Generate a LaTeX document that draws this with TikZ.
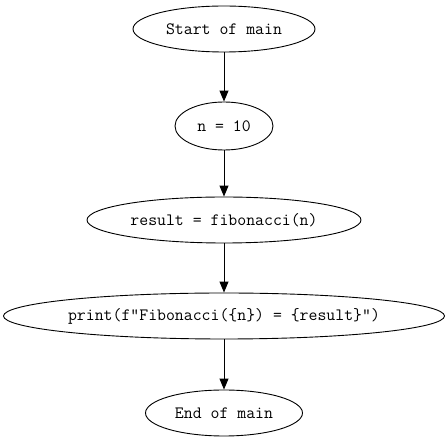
\documentclass[tikz,border=0pt]{standalone}
\usepackage{fontspec}
\usetikzlibrary{shapes.geometric,arrows.meta}
\tikzset{
  flownode/.style={draw=black, line width=0.9pt, ellipse, inner sep=0pt,
    minimum height=46pt, font=\ttfamily\fontsize{17.3}{19}\selectfont},
  flowarrow/.style={draw=black, line width=1pt, -{Triangle[length=11pt,width=9pt]}}
}
\begin{document}
\begin{tikzpicture}[x=1pt,y=1pt]
\useasboundingbox (0,0) rectangle (448,-443);
\node[flownode, minimum width=182pt] (start) at (224,-29) {Start of main};
\node[flownode, minimum width=98pt, minimum height=48pt] (n) at (224,-126) {n = 10};
\node[flownode, minimum width=274pt] (res) at (224,-220) {result = fibonacci(n)};
\node[flownode, minimum width=437pt] (pr) at (224,-316) {print(f"Fibonacci(\{n\}) = \{result\}")};
\node[flownode, minimum width=157pt] (end) at (224,-413) {End of main};
\draw[flowarrow] (start) -- (n);
\draw[flowarrow] (n) -- (res);
\draw[flowarrow] (res) -- (pr);
\draw[flowarrow] (pr) -- (end);
\end{tikzpicture}
\end{document}
